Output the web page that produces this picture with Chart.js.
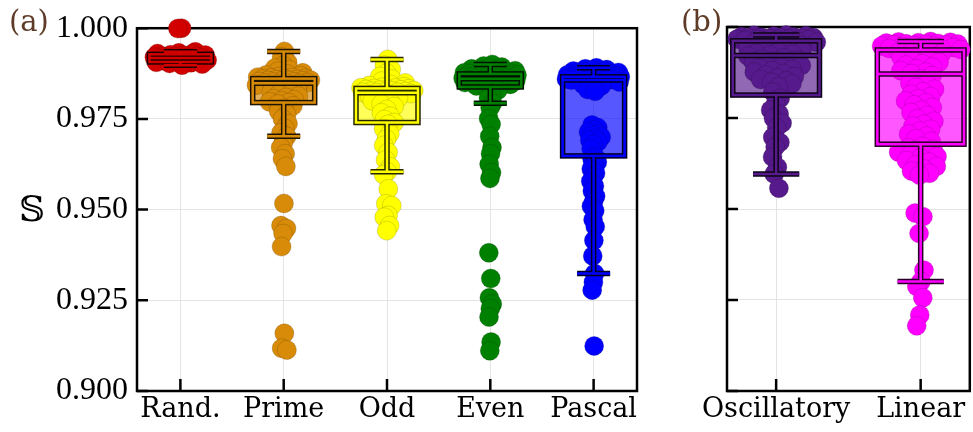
<!DOCTYPE html>
<html>
<head>
<meta charset="utf-8">
<script src="https://cdn.jsdelivr.net/npm/chart.js@4.4.1/dist/chart.umd.min.js"></script>
<style>
  html, body { margin: 0; padding: 0; background: #fff; overflow: hidden; width: 973px; height: 432px; }
  #panelA { position: absolute; left: 0; top: 0; }
  #panelB { position: absolute; left: 660px; top: 0; }
</style>
</head>
<body>
<canvas id="panelA" width="660" height="432"></canvas>
<canvas id="panelB" width="320" height="432"></canvas>
<script>
// ---- categories and tick labels ----
const categoriesA = ['Rand.', 'Prime', 'Odd', 'Even', 'Pascal'];
const categoriesB = ['Oscillatory', 'Linear'];
const yTickValues = [0.900, 0.925, 0.950, 0.975, 1.000];

// ---- sampled values per group ----
const randValues = [1.0000, 0.9999, 0.9935, 0.9932, 0.9930, 0.9929, 0.9927, 0.9926, 0.9925, 0.9923,
  0.9922, 0.9921, 0.9920, 0.9919, 0.9918, 0.9918, 0.9917, 0.9916, 0.9915, 0.9914, 0.9912, 0.9911,
  0.9910, 0.9909, 0.9907, 0.9906, 0.9905, 0.9903, 0.9901, 0.9898];
const primeValues = [0.9936, 0.9921, 0.9906, 0.9897, 0.9890, 0.9885, 0.9881, 0.9877, 0.9874, 0.9871,
  0.9869, 0.9867, 0.9865, 0.9864, 0.9863, 0.9862, 0.9861, 0.9860, 0.9859, 0.9858, 0.9857, 0.9856,
  0.9856, 0.9855, 0.9854, 0.9853, 0.9852, 0.9851, 0.9850, 0.9849, 0.9849, 0.9848, 0.9846, 0.9843,
  0.9839, 0.9836, 0.9832, 0.9828, 0.9824, 0.9820, 0.9817, 0.9813, 0.9809, 0.9806, 0.9803, 0.9800,
  0.9797, 0.9795, 0.9791, 0.9786, 0.9779, 0.9771, 0.9762, 0.9750, 0.9737, 0.9724, 0.9712, 0.9702,
  0.9685, 0.9671, 0.9654, 0.9640, 0.9619, 0.9517, 0.9456, 0.9448, 0.9434, 0.9398, 0.9159, 0.9118, 0.9113];
const oddValues = [0.9914, 0.9898, 0.9886, 0.9876, 0.9867, 0.9860, 0.9854, 0.9849, 0.9845, 0.9842,
  0.9839, 0.9837, 0.9836, 0.9835, 0.9834, 0.9833, 0.9832, 0.9831, 0.9830, 0.9829, 0.9828, 0.9827,
  0.9826, 0.9825, 0.9824, 0.9823, 0.9823, 0.9822, 0.9820, 0.9816, 0.9812, 0.9808, 0.9804, 0.9800,
  0.9796, 0.9791, 0.9784, 0.9776, 0.9767, 0.9757, 0.9748, 0.9740, 0.9735, 0.9723, 0.9709, 0.9694,
  0.9677, 0.9658, 0.9637, 0.9618, 0.9604, 0.9596, 0.9557, 0.9516, 0.9511, 0.9484, 0.9479, 0.9456, 0.9442];
const evenValues = [0.9900, 0.9896, 0.9893, 0.9890, 0.9888, 0.9886, 0.9884, 0.9883, 0.9881, 0.9880,
  0.9879, 0.9878, 0.9877, 0.9876, 0.9876, 0.9875, 0.9874, 0.9874, 0.9873, 0.9872, 0.9871, 0.9870,
  0.9869, 0.9869, 0.9868, 0.9867, 0.9866, 0.9866, 0.9865, 0.9864, 0.9864, 0.9863, 0.9862, 0.9862,
  0.9861, 0.9861, 0.9860, 0.9859, 0.9858, 0.9857, 0.9856, 0.9855, 0.9854, 0.9853, 0.9852, 0.9851,
  0.9850, 0.9848, 0.9847, 0.9845, 0.9843, 0.9841, 0.9840, 0.9838, 0.9829, 0.9818, 0.9807, 0.9793,
  0.9781, 0.9751, 0.9735, 0.9702, 0.9671, 0.9654, 0.9625, 0.9602, 0.9586,
  0.9381, 0.9310, 0.9257, 0.9240, 0.9227, 0.9204, 0.9135, 0.9111];
const pascalValues = [0.9891, 0.9888, 0.9886, 0.9884, 0.9882, 0.9881, 0.9879, 0.9878, 0.9876, 0.9875,
  0.9874, 0.9873, 0.9872, 0.9871, 0.9870, 0.9869, 0.9868, 0.9868, 0.9867, 0.9867, 0.9866, 0.9866,
  0.9865, 0.9865, 0.9864, 0.9864, 0.9863, 0.9863, 0.9862, 0.9862, 0.9861, 0.9861, 0.9860, 0.9860,
  0.9859, 0.9859, 0.9858, 0.9858, 0.9857, 0.9857, 0.9855, 0.9852, 0.9849, 0.9845, 0.9841, 0.9836,
  0.9831, 0.9826, 0.9733, 0.9726, 0.9720, 0.9714, 0.9709, 0.9705, 0.9700, 0.9696, 0.9691, 0.9686,
  0.9679, 0.9668, 0.9646, 0.9639, 0.9631, 0.9622, 0.9612, 0.9601, 0.9590, 0.9578, 0.9565, 0.9551,
  0.9537, 0.9522, 0.9509, 0.9497, 0.9472, 0.9453, 0.9415, 0.9372, 0.9324, 0.9300, 0.9278, 0.9124];
const oscillatoryValues = [0.9978, 0.9977, 0.9976, 0.9975, 0.9974, 0.9973, 0.9972, 0.9971, 0.9970,
  0.9970, 0.9969, 0.9968, 0.9967, 0.9966, 0.9966, 0.9965, 0.9964, 0.9963, 0.9962, 0.9961, 0.9958,
  0.9955, 0.9952, 0.9949, 0.9946, 0.9943, 0.9940, 0.9937, 0.9934, 0.9931, 0.9928, 0.9925, 0.9923,
  0.9920, 0.9915, 0.9912, 0.9909, 0.9906, 0.9903, 0.9900, 0.9897, 0.9894, 0.9890, 0.9887, 0.9883,
  0.9880, 0.9876, 0.9872, 0.9868, 0.9864, 0.9860, 0.9856, 0.9852, 0.9848, 0.9844, 0.9836, 0.9821,
  0.9804, 0.9790, 0.9772, 0.9761, 0.9749, 0.9736, 0.9723, 0.9697, 0.9683, 0.9670, 0.9643, 0.9615,
  0.9596, 0.9557];
const linearValues = [0.9960, 0.9959, 0.9958, 0.9957, 0.9956, 0.9955, 0.9954, 0.9953, 0.9952, 0.9951,
  0.9950, 0.9949, 0.9948, 0.9947, 0.9945, 0.9944, 0.9943, 0.9941, 0.9940, 0.9939, 0.9938, 0.9935,
  0.9931, 0.9927, 0.9922, 0.9917, 0.9913, 0.9908, 0.9903, 0.9899, 0.9895, 0.9890, 0.9885, 0.9880,
  0.9876, 0.9872, 0.9866, 0.9857, 0.9846, 0.9843, 0.9834, 0.9829, 0.9822, 0.9815, 0.9809, 0.9803,
  0.9797, 0.9792, 0.9786, 0.9779, 0.9771, 0.9765, 0.9757, 0.9748, 0.9741, 0.9733, 0.9728, 0.9719,
  0.9714, 0.9706, 0.9700, 0.9693, 0.9686, 0.9672, 0.9668, 0.9664, 0.9661, 0.9656, 0.9652, 0.9648,
  0.9644, 0.9640, 0.9633, 0.9629, 0.9621, 0.9617, 0.9610, 0.9604, 0.9598, 0.9593, 0.9489, 0.9479,
  0.9433, 0.9332, 0.9301, 0.9287, 0.9256, 0.9209, 0.9179];

// ---- box summaries: [lower whisker, Q1, median, Q3, upper whisker] ----
const randBox = [0.9898, 0.9907, 0.9918, 0.9928, 0.9935];
const primeBox = [0.9702, 0.9795, 0.9848, 0.9861, 0.9936];
const oddBox = [0.9604, 0.9740, 0.9822, 0.9834, 0.9914];
const evenBox = [0.9793, 0.9838, 0.9861, 0.9874, 0.9900];
const pascalBox = [0.9324, 0.9648, 0.9857, 0.9866, 0.9891];
const oscillatoryBox = [0.9596, 0.9813, 0.9922, 0.9962, 0.9978];
const linearBox = [0.9301, 0.9678, 0.9871, 0.9937, 0.9960];

// ---- styling ----
const colorsA = ['#d30000', '#d88b08', '#ffff00', '#008000', '#0000ff'];
const colorsB = ['#561a8c', '#ff00ff'];
const BOX_WIDTH = 0.6;
const CAP_WIDTH = 0.32;
const TICK_FONT = '"Liberation Serif", serif';
const LABEL_FONT = '"DejaVu Serif", serif';
const GRID = '#e4e4e4';

function rgbOf(hex) {
  const n = parseInt(hex.slice(1), 16);
  return [(n >> 16) & 255, (n >> 8) & 255, n & 255];
}
function shade(hex, f, a = 1) {
  const [r, g, b] = rgbOf(hex);
  return `rgba(${Math.round(r * f)},${Math.round(g * f)},${Math.round(b * f)},${a})`;
}

// Horizontal spread of the dots: width follows the local density of values
// (saturating at `sat` of the peak), positions cycle through a golden-ratio
// sequence so the cloud fills evenly.
function spread(values, center, half, bandwidth, sat) {
  const dens = values.map(v => values.reduce((s, u) => s + Math.exp(-0.5 * ((v - u) / bandwidth) ** 2), 0));
  const peak = Math.max(...dens);
  return values.map((v, i) => {
    const s = 2 * (((i + 1) * 0.6180339887498949) % 1) - 1;
    const w = Math.min(1, dens[i] / (sat * peak));
    return { x: center + s * half * w, y: v };
  });
}

function makeDatasets(groups, half, sat) {
  return groups.map((g, i) => ({
    data: spread(g.values, i, half, 0.001, sat),
    backgroundColor: g.color,
    borderColor: shade(g.color, 0.5, 0.4),
    borderWidth: 0.7,
    pointRadius: 9.5,
    pointHoverRadius: 9.5,
    clip: false
  }));
}

function boxPlugin(groups, cornerText) {
  return {
    id: 'boxes',
    beforeDatasetsDraw(chart) {
      const { ctx, chartArea: a, scales: { x, y } } = chart;
      ctx.save();
      // translucent box bodies under the dots
      groups.forEach((g, i) => {
        const [, q1, , q3] = g.box;
        const xl = x.getPixelForValue(i - BOX_WIDTH / 2), xr = x.getPixelForValue(i + BOX_WIDTH / 2);
        const t = y.getPixelForValue(q3), b = y.getPixelForValue(q1);
        ctx.fillStyle = shade(g.color, 1, 0.66);
        ctx.fillRect(xl, t, xr - xl, b - t);
      });
      // frame
      ctx.strokeStyle = '#000';
      ctx.lineWidth = 2.5;
      ctx.strokeRect(a.left, a.top, a.right - a.left, a.bottom - a.top);
      // inward ticks
      ctx.beginPath();
      yTickValues.forEach(v => {
        const py = y.getPixelForValue(v);
        ctx.moveTo(a.left, py); ctx.lineTo(a.left + 11, py);
      });
      groups.forEach((g, i) => {
        const px = x.getPixelForValue(i);
        ctx.moveTo(px, a.bottom); ctx.lineTo(px, a.bottom - 12);
      });
      ctx.stroke();
      ctx.restore();
    },
    afterDatasetsDraw(chart) {
      const { ctx, scales: { x, y } } = chart;
      ctx.save();
      ctx.lineCap = 'butt';
      ctx.lineJoin = 'miter';
      groups.forEach((g, i) => {
        const [lo, q1, med, q3, hi] = g.box.map(v => y.getPixelForValue(v));
        const cx = x.getPixelForValue(i);
        const xl = x.getPixelForValue(i - BOX_WIDTH / 2), xr = x.getPixelForValue(i + BOX_WIDTH / 2);
        const cl = x.getPixelForValue(i - CAP_WIDTH / 2), cr = x.getPixelForValue(i + CAP_WIDTH / 2);
        const segs = [
          [cx, q3, cx, hi], [cx, q1, cx, lo],
          [cl, hi, cr, hi], [cl, lo, cr, lo],
          [xl, med, xr, med]
        ];
        const pass = (style, w) => {
          ctx.strokeStyle = style;
          ctx.lineWidth = w;
          segs.forEach(s => { ctx.beginPath(); ctx.moveTo(s[0], s[1]); ctx.lineTo(s[2], s[3]); ctx.stroke(); });
          ctx.strokeRect(xl, q3, xr - xl, q1 - q3);
        };
        pass(shade(g.color, 0.15), 5.5);
        pass(g.color, 2.5);
      });
      ctx.restore();
    },
    afterDraw(chart) {
      const { ctx } = chart;
      ctx.save();
      cornerText.forEach(t => {
        ctx.font = t.font;
        ctx.fillStyle = t.color;
        ctx.textAlign = t.align;
        ctx.textBaseline = t.baseline;
        ctx.fillText(t.text, t.x, t.y);
      });
      ctx.restore();
    }
  };
}

function makeChart(canvasId, categories, groups, opts) {
  return new Chart(document.getElementById(canvasId), {
    type: 'scatter',
    data: { datasets: makeDatasets(groups, opts.half, opts.sat) },
    options: {
      responsive: false,
      animation: false,
      events: [],
      layout: { padding: { top: 27, right: opts.padRight, bottom: 0, left: 0 } },
      plugins: { legend: { display: false }, tooltip: { enabled: false } },
      scales: {
        x: {
          type: 'linear',
          min: opts.xMin,
          max: opts.xMax,
          afterBuildTicks: s => { s.ticks = categories.map((_, i) => ({ value: i })); },
          afterFit: s => { s.height = 41; },
          ticks: {
            callback: v => categories[v],
            font: { family: LABEL_FONT, size: 27 },
            color: '#000',
            padding: 3,
            maxRotation: 0,
            autoSkip: false
          },
          grid: { color: GRID, lineWidth: 1, drawTicks: false },
          border: { display: false }
        },
        y: {
          type: 'linear',
          min: 0.9,
          max: 1.0,
          afterBuildTicks: s => { s.ticks = yTickValues.map(v => ({ value: v })); },
          afterFit: s => { s.width = opts.yWidth; },
          ticks: {
            display: opts.showYLabels,
            callback: v => v.toFixed(3),
            font: { family: TICK_FONT, size: 32 },
            color: '#000',
            padding: 9
          },
          grid: { color: GRID, lineWidth: 1, drawTicks: false },
          border: { display: false }
        }
      }
    },
    plugins: [boxPlugin(groups, opts.texts)]
  });
}

const groupsA = [
  { values: randValues, box: randBox, color: colorsA[0] },
  { values: primeValues, box: primeBox, color: colorsA[1] },
  { values: oddValues, box: oddBox, color: colorsA[2] },
  { values: evenValues, box: evenBox, color: colorsA[3] },
  { values: pascalValues, box: pascalBox, color: colorsA[4] }
];
const groupsB = [
  { values: oscillatoryValues, box: oscillatoryBox, color: colorsB[0] },
  { values: linearValues, box: linearBox, color: colorsB[1] }
];

makeChart('panelA', categoriesA, groupsA, {
  xMin: -0.42, xMax: 4.42, half: 0.27, sat: 0.6, padRight: 23, yWidth: 137, showYLabels: true,
  texts: [
    { text: '(a)', x: 9, y: 31, font: `29px ${LABEL_FONT}`, color: '#5e3c28', align: 'left', baseline: 'alphabetic' },
    { text: '\u{1D54A}', x: 32, y: 212, font: `36px "DejaVu Serif", "DejaVu Sans", serif`, color: '#000', align: 'center', baseline: 'middle' }
  ]
});
makeChart('panelB', categoriesB, groupsB, {
  xMin: -0.34, xMax: 1.34, half: 0.29, sat: 0.6, padRight: 6, yWidth: 67, showYLabels: false,
  texts: [
    { text: '(b)', x: 21, y: 31, font: `29px ${LABEL_FONT}`, color: '#5e3c28', align: 'left', baseline: 'alphabetic' }
  ]
});
</script>
</body>
</html>
